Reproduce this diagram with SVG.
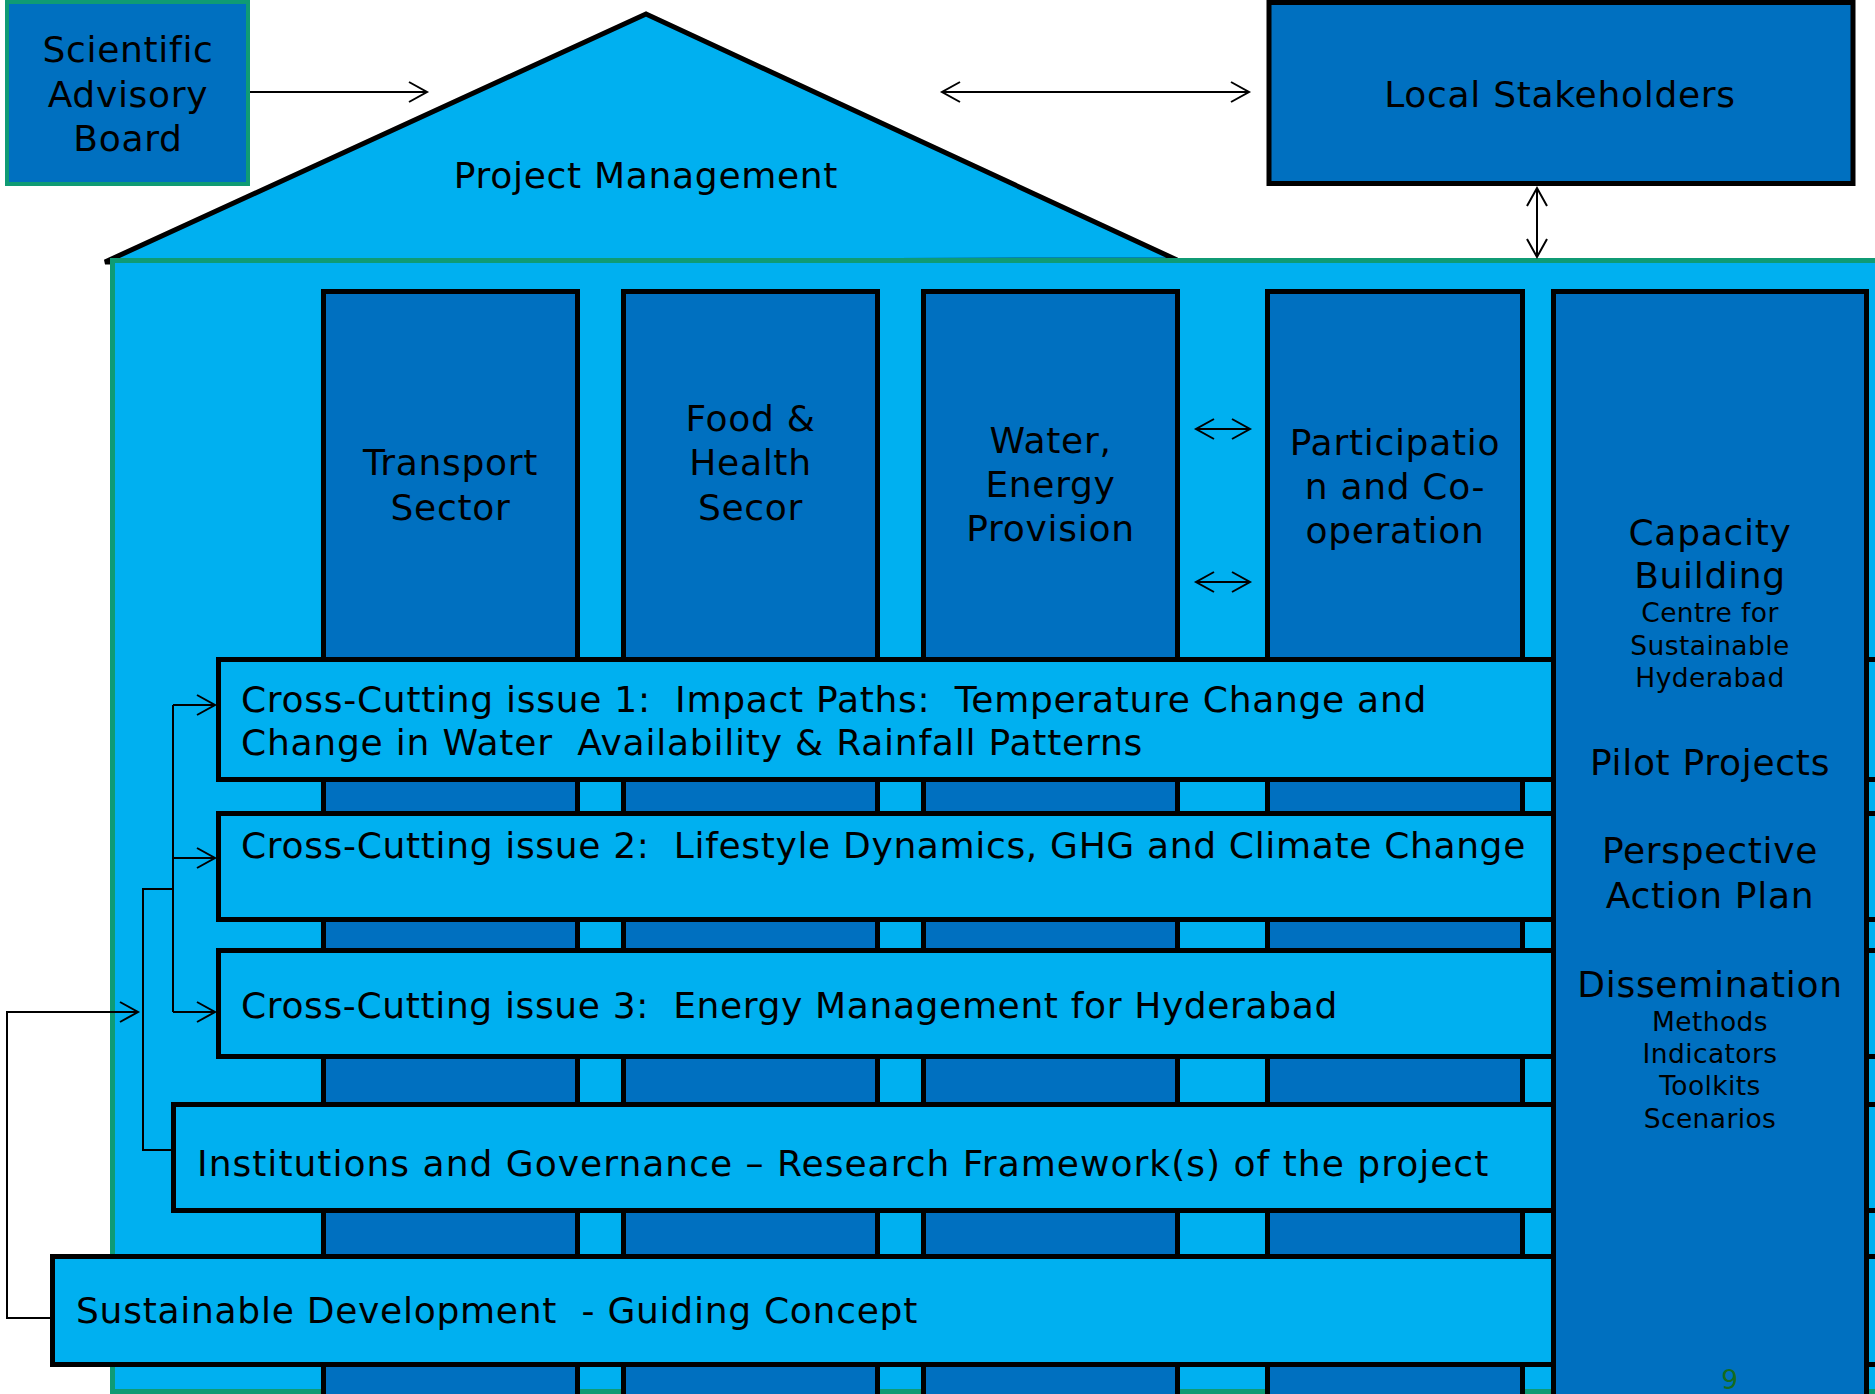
<svg xmlns="http://www.w3.org/2000/svg" width="1875" height="1394" viewBox="0 0 1875 1394">
<style>
text{font-family:"DejaVu Sans","Verdana",sans-serif;fill:#000}
.big{font-size:36px;letter-spacing:0.7px}
.small{font-size:26.5px;letter-spacing:0.4px}
.mid{text-anchor:middle}
.col{fill:#0070C0;stroke:#000;stroke-width:5}
.bar{fill:#00B0F0;stroke:#000;stroke-width:5}
.conn{fill:none;stroke:#000;stroke-width:2}
</style>
<defs>
<marker id="ah" markerUnits="userSpaceOnUse" markerWidth="22" markerHeight="24" refX="19" refY="12" orient="auto-start-reverse">
<path d="M1,2 L19,12 L1,22" fill="none" stroke="#000" stroke-width="2"/>
</marker>
</defs>
<rect width="1875" height="1394" fill="#fff"/>

<g id="project-management">
<polygon points="646,14 105,262 1177,260" fill="#00B0F0" stroke="#000" stroke-width="5" stroke-linejoin="miter"/>
<text class="big mid" x="646" y="188">Project Management</text>
</g>

<g id="body">
<rect x="112.5" y="260.5" width="1800" height="1131" fill="#00B0F0" stroke="#0F9B74" stroke-width="5"/>
</g>

<g id="transport">
<rect class="col" x="323.5" y="291.5" width="254" height="1200"/>
<text class="big mid" x="450.5" y="475">Transport</text>
<text class="big mid" x="450.5" y="520">Sector</text>
</g>
<g id="food-health">
<rect class="col" x="623.5" y="291.5" width="254" height="1200"/>
<text class="big mid" x="750.5" y="431">Food &amp;</text>
<text class="big mid" x="750.5" y="475">Health</text>
<text class="big mid" x="750.5" y="520">Secor</text>
</g>
<g id="water-energy">
<rect class="col" x="923.5" y="291.5" width="254" height="1200"/>
<text class="big mid" x="1050.5" y="453">Water,</text>
<text class="big mid" x="1050.5" y="497">Energy</text>
<text class="big mid" x="1050.5" y="541">Provision</text>
</g>
<g id="participation">
<rect class="col" x="1267.5" y="291.5" width="255" height="1200"/>
<text class="big mid" x="1395" y="455">Participatio</text>
<text class="big mid" x="1395" y="499">n and Co-</text>
<text class="big mid" x="1395" y="543">operation</text>
</g>

<g id="cc1">
<rect class="bar" x="218.5" y="659.5" width="1700" height="120"/>
<text class="big" x="241" y="712" xml:space="preserve" textLength="1186" lengthAdjust="spacing">Cross-Cutting issue 1:  Impact Paths:  Temperature Change and</text>
<text class="big" x="241" y="755" xml:space="preserve" textLength="902" lengthAdjust="spacing">Change in Water  Availability &amp; Rainfall Patterns</text>
</g>
<g id="cc2">
<rect class="bar" x="218.5" y="813.5" width="1700" height="106"/>
<text class="big" x="241" y="858" xml:space="preserve" textLength="1285" lengthAdjust="spacing">Cross-Cutting issue 2:  Lifestyle Dynamics, GHG and Climate Change</text>
</g>
<g id="cc3">
<rect class="bar" x="218.5" y="950.5" width="1700" height="106"/>
<text class="big" x="241" y="1018" xml:space="preserve" textLength="1097" lengthAdjust="spacing">Cross-Cutting issue 3:  Energy Management for Hyderabad</text>
</g>
<g id="institutions">
<rect class="bar" x="173.5" y="1104.5" width="1745" height="106"/>
<text class="big" x="197" y="1176" textLength="1292" lengthAdjust="spacing">Institutions and Governance – Research Framework(s) of the project</text>
</g>
<g id="sustainable-development">
<rect class="bar" x="52.5" y="1256.5" width="1866" height="108"/>
<text class="big" x="76" y="1323" xml:space="preserve" textLength="842" lengthAdjust="spacing">Sustainable Development  - Guiding Concept</text>
</g>

<g id="capacity-building">
<rect class="col" x="1553.5" y="291.5" width="313" height="1200"/>
<text class="big mid" x="1710" y="545">Capacity</text>
<text class="big mid" x="1710" y="588">Building</text>
<text class="small mid" x="1710" y="622">Centre for</text>
<text class="small mid" x="1710" y="655">Sustainable</text>
<text class="small mid" x="1710" y="687">Hyderabad</text>
<text class="big mid" x="1710" y="775">Pilot Projects</text>
<text class="big mid" x="1710" y="863">Perspective</text>
<text class="big mid" x="1710" y="908">Action Plan</text>
<text class="big mid" x="1710" y="997">Dissemination</text>
<text class="small mid" x="1710" y="1031">Methods</text>
<text class="small mid" x="1710" y="1063">Indicators</text>
<text class="small mid" x="1710" y="1095">Toolkits</text>
<text class="small mid" x="1710" y="1128">Scenarios</text>
<text class="small mid" x="1730" y="1389" style="fill:#156B1E">9</text>
</g>

<g id="scientific-advisory-board">
<rect x="7" y="2" width="241" height="182" fill="#0070C0" stroke="#0F9B74" stroke-width="4"/>
<text class="big mid" x="128" y="62">Scientific</text>
<text class="big mid" x="128" y="107">Advisory</text>
<text class="big mid" x="128" y="151">Board</text>
</g>

<g id="local-stakeholders">
<rect x="1269" y="2.5" width="584" height="181" fill="#0070C0" stroke="#000" stroke-width="5"/>
<text class="big mid" x="1560" y="107">Local Stakeholders</text>
</g>

<g id="connectors">
<line class="conn" x1="250" y1="92" x2="427" y2="92" marker-end="url(#ah)"/>
<line class="conn" x1="942" y1="92" x2="1249" y2="92" marker-start="url(#ah)" marker-end="url(#ah)"/>
<line class="conn" x1="1537" y1="188" x2="1537" y2="257" marker-start="url(#ah)" marker-end="url(#ah)"/>
<line class="conn" x1="1196" y1="429" x2="1250" y2="429" marker-start="url(#ah)" marker-end="url(#ah)"/>
<line class="conn" x1="1196" y1="582" x2="1250" y2="582" marker-start="url(#ah)" marker-end="url(#ah)"/>
<line class="conn" x1="173" y1="705" x2="173" y2="1012"/>
<line class="conn" x1="173" y1="705" x2="215" y2="705" marker-end="url(#ah)"/>
<line class="conn" x1="173" y1="858" x2="215" y2="858" marker-end="url(#ah)"/>
<line class="conn" x1="173" y1="1012" x2="215" y2="1012" marker-end="url(#ah)"/>
<polyline class="conn" points="173,889 143,889 143,1150 172,1150"/>
<polyline class="conn" points="51,1318 7,1318 7,1012 138,1012" marker-end="url(#ah)"/>
</g>
</svg>
